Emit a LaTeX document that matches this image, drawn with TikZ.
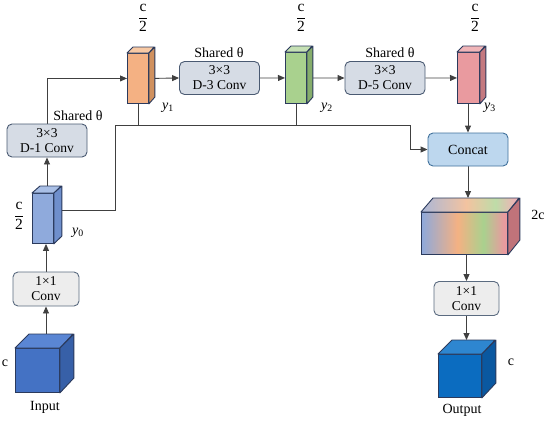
\documentclass[tikz,border=0pt]{standalone}
\usepackage{fontspec}
\setmainfont{Liberation Serif}
\usepackage{amsmath}
\usetikzlibrary{arrows.meta,calc}
\pgfdeclarelayer{bg}
\pgfsetlayers{bg,main}
\definecolor{edgec}{HTML}{2B3A5C}
\definecolor{linec}{HTML}{404040}
\definecolor{sharedfill}{HTML}{D6DCE5}
\definecolor{shareddraw}{HTML}{4A5A72}
\definecolor{onefill}{HTML}{EDEDED}
\definecolor{onedraw}{HTML}{5B6B80}
\definecolor{catfill}{HTML}{BDD7EE}
\definecolor{catdraw}{HTML}{41719C}
\definecolor{gA}{HTML}{8EA9DB}
\definecolor{gB}{HTML}{F4B183}
\definecolor{gC}{HTML}{A9D18E}
\definecolor{gD}{HTML}{E99A9F}
\definecolor{tA}{HTML}{AAB7D8}
\definecolor{tB}{HTML}{F3C3A0}
\definecolor{tC}{HTML}{BEDCA8}
\definecolor{tD}{HTML}{EEB3B6}
\definecolor{inF}{HTML}{4472C4}
\definecolor{inT}{HTML}{5A86D4}
\definecolor{inS}{HTML}{3760A8}
\definecolor{yzF}{HTML}{8FAADC}
\definecolor{yzT}{HTML}{A9BFE6}
\definecolor{yzS}{HTML}{6F8FCC}
\definecolor{yaF}{HTML}{F4B183}
\definecolor{yaT}{HTML}{F8C9A4}
\definecolor{yaS}{HTML}{D0915F}
\definecolor{ybF}{HTML}{A9D18E}
\definecolor{ybT}{HTML}{C5E0B4}
\definecolor{ybS}{HTML}{86AD6C}
\definecolor{ycF}{HTML}{E99A9F}
\definecolor{ycT}{HTML}{F0B5B8}
\definecolor{ycS}{HTML}{C47980}
\definecolor{outF}{HTML}{0B6CC0}
\definecolor{outT}{HTML}{2E86D0}
\definecolor{outS}{HTML}{0A58A0}
\definecolor{wideS}{HTML}{C0737A}
\pgfdeclarehorizontalshading{rainbowfront}{100bp}{color(0bp)=(gA); color(25bp)=(gA); color(46bp)=(gB); color(61bp)=(gC); color(73bp)=(gD); color(100bp)=(gD)}
\pgfdeclarehorizontalshading{rainbowtop}{100bp}{color(0bp)=(tA); color(25bp)=(tA); color(48bp)=(tB); color(63bp)=(tC); color(73bp)=(tD); color(100bp)=(tD)}
\tikzset{
  cubeface/.style={draw=edgec, line width=0.9pt, inner sep=0pt, anchor=north west},
  cubeedge/.style={draw=edgec, line width=0.9pt, line join=round},
  convbox/.style={rounded corners=5pt, line width=0.9pt, align=center, inner sep=0pt, font=\fontsize{13.5}{15}\selectfont},
  sharedbox/.style={convbox, fill=sharedfill, draw=shareddraw, minimum width=80, minimum height=33},
  onebox/.style={convbox, fill=onefill, draw=onedraw, minimum width=66, minimum height=34},
  catbox/.style={convbox, fill=catfill, draw=catdraw, minimum width=80, minimum height=33, font=\fontsize{14}{16}\selectfont},
  lbl/.style={inner sep=0pt, font=\fontsize{14}{16}\selectfont},
  frc/.style={inner sep=0pt, font=\fontsize{15.5}{18}\selectfont},
  conn/.style={draw=linec, line width=0.9pt},
  arr/.style={conn, -{Triangle[length=7pt,width=6pt]}},
}
% #1 name, #2 front top-left, #3 width, #4 height, #5 depth x, #6 depth y, #7 front, #8 top, #9 side
\newcommand{\mycuboid}[9]{%
  \node[cubeface, fill=#7, minimum width=#3, minimum height=#4] (#1) at #2 {};
  \draw[cubeedge, fill=#8] (#1.north west) -- ++(#5,-#6) -- ++(#3,0) -- (#1.north east) -- cycle;
  \draw[cubeedge, fill=#9] (#1.north east) -- ++(#5,-#6) -- ++(0,#4) -- (#1.south east) -- cycle;
}
\begin{document}
\begin{tikzpicture}[x=1pt,y=-1pt]
\useasboundingbox (0,0) rectangle (550,421);

% conv boxes
\node[sharedbox] (d1) at (47,140.5) {3×3\\[0pt]D-1 Conv};
\node[sharedbox] (d3) at (219.5,78) {3×3\\[0pt]D-3 Conv};
\node[sharedbox] (d5) at (385,78) {3×3\\[0pt]D-5 Conv};
\node[onebox] (conv1) at (46,289) {1×1\\[0pt]Conv};
\node[onebox, minimum width=65] (conv2) at (466.5,298.5) {1×1\\[0pt]Conv};
\node[catbox] (concat) at (468,149.5) {Concat};

% cuboids
\mycuboid{in}{(15,348)}{44}{44}{14}{14}{inF}{inT}{inS}
\mycuboid{y0}{(32,193)}{21}{50}{8}{7}{yzF}{yzT}{yzS}
\mycuboid{y1}{(127,53)}{21}{50}{6}{6}{yaF}{yaT}{yaS}
\mycuboid{y2}{(285,52)}{21}{51}{6}{6}{ybF}{ybT}{ybS}
\mycuboid{y3}{(457,52)}{22}{51}{6}{6}{ycF}{ycT}{ycS}
\mycuboid{out}{(438,354)}{43}{43}{14}{14}{outF}{outT}{outS}

% wide gradient cuboid
\node[cubeface, shading=rainbowfront, minimum width=86, minimum height=42] (wide) at (421,212) {};
\draw[cubeedge, shading=rainbowtop] (wide.north west) -- ++(12,-14) -- ++(86,0) -- (wide.north east) -- cycle;
\draw[cubeedge, fill=wideS] (wide.north east) -- ++(12,-14) -- ++(0,42) -- (wide.south east) -- cycle;

% helper coordinates
\coordinate (intop) at ($(in.north)+(8,-7)$);
\coordinate (y0top) at ($(y0.north)+(4,-3.5)$);
\coordinate (y0out) at ($(y0.east)+(0,-8)$);
\coordinate (widetop) at ($(wide.north)+(12,-14)$);
\coordinate (outtop) at ($(out.north)+(14,-14)$);
\coordinate (busL) at (115,125);
\coordinate (busR) at (410,125);

% connectors
\begin{pgfonlayer}{bg}
\draw[arr] (conv1.south |- intop) -- (conv1.south);
\draw[arr] (conv1.north) -- (conv1.north |- y0.south);
\draw[arr] (d1.south |- y0top) -- (d1.south);
\draw[arr] (d1.north) |- (y1.west);
\draw[arr] (y1.east) -- (d3.west);
\draw[arr] (d3.east) -- (y2.west);
\draw[arr] (y2.east) -- (d5.west);
\draw[arr] (d5.east) -- (y3.west);
\draw[arr] (concat.north |- y3.south) -- (concat.north);
\draw[arr] (y0out) -| (busL) -- (busR) |- (concat.west);
\draw[conn] (y1.south) -- (y1.south |- busL);
\draw[conn] (y2.south) -- (y2.south |- busL);
\draw[arr] (concat.south) -- (concat.south |- widetop);
\draw[arr] (conv2.north |- wide.south) -- (conv2.north);
\draw[arr] (conv2.south) -- (conv2.south |- outtop);
\end{pgfonlayer}

% labels
\node[lbl] (sh1) at (78,116) {Shared θ};
\node[lbl] (sh3) at (219,53) {Shared θ};
\node[lbl] (sh5) at (390,53) {Shared θ};
\node[frc] (f0) at (19,216) {$\dfrac{\text{c}}{\text{2}}$};
\node[frc] (f1) at (143,18) {$\dfrac{\text{c}}{\text{2}}$};
\node[frc] (f2) at (301,18) {$\dfrac{\text{c}}{\text{2}}$};
\node[frc] (f3) at (475,18) {$\dfrac{\text{c}}{\text{2}}$};
\node[lbl] (ly0) at (78,233) {\textit{y}\textsubscript{0}};
\node[lbl] (ly1) at (168,108) {\textit{y}\textsubscript{1}};
\node[lbl] (ly2) at (327,108) {\textit{y}\textsubscript{2}};
\node[lbl] (ly3) at (490,108) {\textit{y}\textsubscript{3}};
\node[lbl] (cin) at (5,363) {c};
\node[lbl] (cout) at (511,362) {c};
\node[lbl] (c2) at (538,215) {2c};
\node[lbl] (tin) at (45,407) {Input};
\node[lbl] (tout) at (462,410) {Output};
\end{tikzpicture}
\end{document}
